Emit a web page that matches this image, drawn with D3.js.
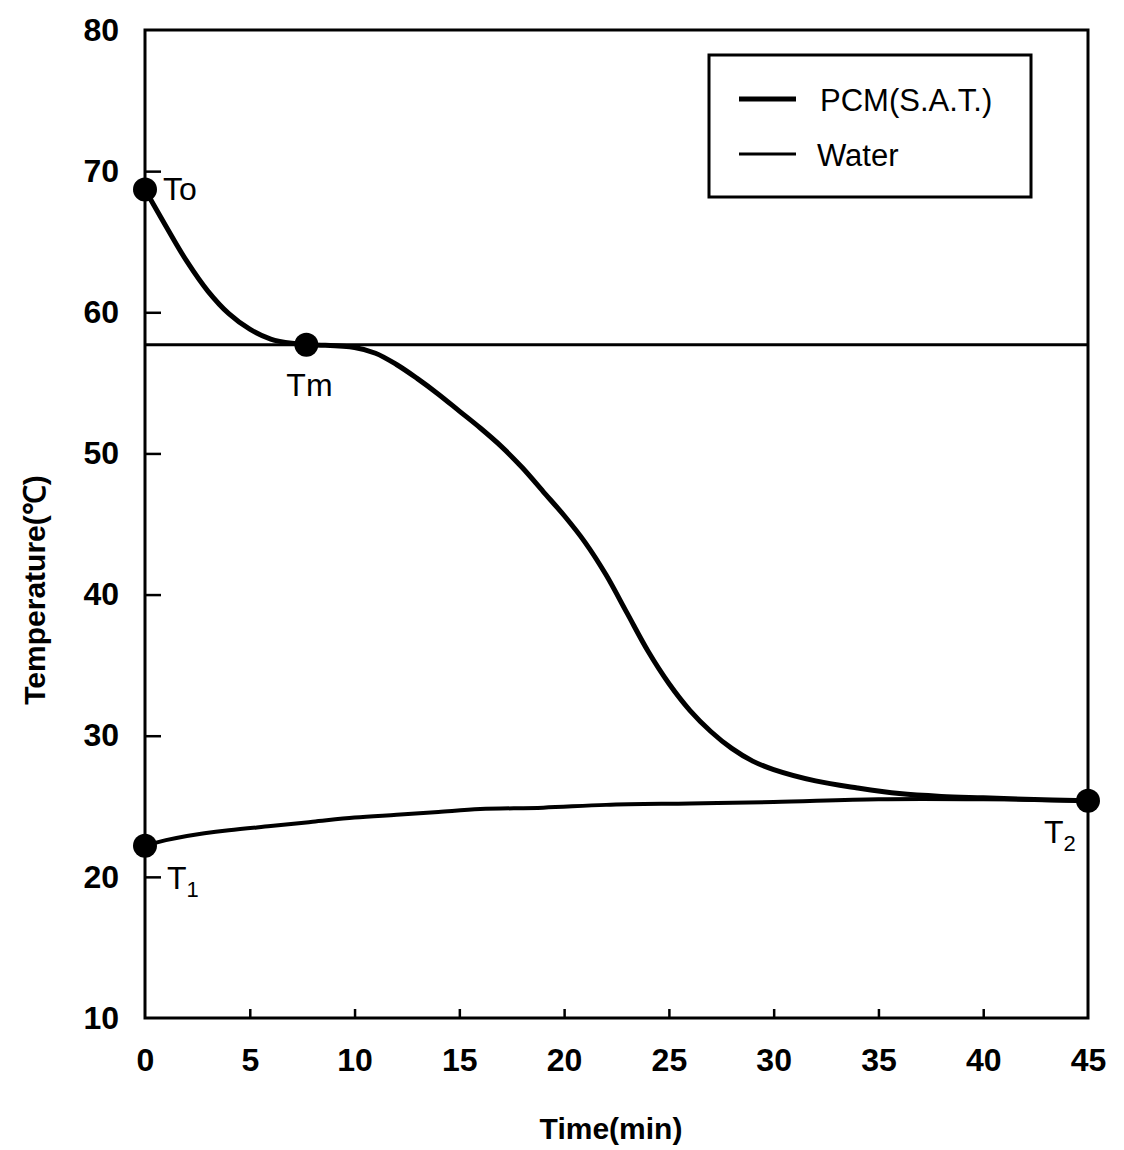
<!DOCTYPE html>
<html>
<head>
<meta charset="utf-8">
<script src="https://cdn.jsdelivr.net/npm/d3@7"></script>
<style>
  body { margin: 0; background: #fff; }
  text { font-family: "Liberation Sans", Arial, sans-serif; fill: #000; }
</style>
</head>
<body>
<script>
// values
let pcmTime = [0, 1, 2, 3, 4, 5, 6, 7, 8, 10, 11, 12, 13, 14, 15, 16, 17, 18, 19, 20, 21, 22, 23, 24, 25, 26, 27, 28, 29, 30, 32, 34, 36, 38, 40, 42, 45];
let pcmTemp = [68.7, 66.1, 63.6, 61.5, 59.9, 58.8, 58.1, 57.8, 57.7, 57.5, 57.1, 56.3, 55.3, 54.2, 53.0, 51.8, 50.5, 49.0, 47.3, 45.6, 43.7, 41.4, 38.7, 36.0, 33.7, 31.8, 30.3, 29.1, 28.2, 27.6, 26.8, 26.3, 25.9, 25.7, 25.6, 25.5, 25.4];
let waterTime = [0, 1, 2, 4, 6, 8, 10, 12, 14, 16, 19, 22, 26, 30, 35, 40, 45];
let waterTemp = [22.2, 22.6, 22.9, 23.3, 23.6, 23.9, 24.2, 24.4, 24.6, 24.8, 24.9, 25.1, 25.2, 25.3, 25.5, 25.5, 25.4];
let meltTemp = 57.7;
let markers = [
  {name: "To", t: 0, v: 68.7},
  {name: "Tm", t: 7.7, v: 57.7},
  {name: "T1", t: 0, v: 22.2},
  {name: "T2", t: 45, v: 25.4}
];
let xTicks = [0, 5, 10, 15, 20, 25, 30, 35, 40, 45];
let yTicks = [10, 20, 30, 40, 50, 60, 70, 80];

let W = 1124, H = 1150;
let margin = {left: 145, right: 36, top: 30, bottom: 132};

let svg = d3.select("body").append("svg").attr("width", W).attr("height", H);

let x = d3.scaleLinear().domain([0, 45]).range([margin.left, W - margin.right]);
let y = d3.scaleLinear().domain([10, 80]).range([H - margin.bottom, margin.top]);

// frame
svg.append("rect")
  .attr("x", x(0)).attr("y", y(80))
  .attr("width", x(45) - x(0)).attr("height", y(10) - y(80))
  .attr("fill", "none").attr("stroke", "#000").attr("stroke-width", 3);

// axes, ticks pointing inwards
let yAxis = svg.append("g")
  .attr("transform", "translate(" + x(0) + ",0)")
  .call(d3.axisLeft(y).tickValues(yTicks).tickSize(-16).tickPadding(26));
yAxis.select(".domain").remove();
yAxis.selectAll(".tick line").attr("stroke-width", 2.5)
  .filter(d => d === 10 || d === 80).remove();
yAxis.selectAll(".tick text")
  .style("font-size", "32px").style("font-weight", "bold");

let xAxis = svg.append("g")
  .attr("transform", "translate(0," + y(10) + ")")
  .call(d3.axisBottom(x).tickValues(xTicks).tickSize(-9).tickPadding(30));
xAxis.select(".domain").remove();
xAxis.selectAll(".tick line").attr("stroke-width", 2.5)
  .filter(d => d === 0 || d === 45).remove();
xAxis.selectAll(".tick text")
  .style("font-size", "32px").style("font-weight", "bold");

// melting reference line
svg.append("line")
  .attr("x1", x(0)).attr("x2", x(45))
  .attr("y1", y(meltTemp)).attr("y2", y(meltTemp))
  .attr("stroke", "#000").attr("stroke-width", 3);

let line = d3.line()
  .x(d => x(d[0]))
  .y(d => y(d[1]))
  .curve(d3.curveCatmullRom.alpha(0.5));

svg.append("path")
  .attr("d", line(d3.zip(waterTime, waterTemp)))
  .attr("fill", "none").attr("stroke", "#000").attr("stroke-width", 4);

svg.append("path")
  .attr("d", line(d3.zip(pcmTime, pcmTemp)))
  .attr("fill", "none").attr("stroke", "#000").attr("stroke-width", 5);

svg.selectAll("circle.mk").data(markers).enter().append("circle")
  .attr("class", "mk")
  .attr("cx", d => x(d.t)).attr("cy", d => y(d.v))
  .attr("r", 12).attr("fill", "#000");

// point labels
function label(px, py, main, sub) {
  let t = svg.append("text").attr("x", px).attr("y", py)
    .style("font-size", "32px");
  t.append("tspan").text(main);
  if (sub) t.append("tspan").attr("dy", 8).style("font-size", "22px").text(sub);
}
label(x(0) + 18, y(68.7) + 11, "To");
label(x(7.7) - 20, y(57.7) + 51, "Tm");
label(x(0) + 22, y(22.2) + 43, "T", "1");
label(x(45) - 44, y(25.4) + 42, "T", "2");

// legend
let lg = svg.append("g");
lg.append("rect")
  .attr("x", 709).attr("y", 55).attr("width", 322).attr("height", 142)
  .attr("fill", "#fff").attr("stroke", "#000").attr("stroke-width", 3);
lg.append("line").attr("x1", 739).attr("x2", 796).attr("y1", 99).attr("y2", 99)
  .attr("stroke", "#000").attr("stroke-width", 5);
lg.append("line").attr("x1", 739).attr("x2", 796).attr("y1", 154).attr("y2", 154)
  .attr("stroke", "#000").attr("stroke-width", 3);
lg.append("text").attr("x", 820).attr("y", 111).style("font-size", "31px").text("PCM(S.A.T.)");
lg.append("text").attr("x", 817).attr("y", 166).style("font-size", "31px").text("Water");

// axis titles
svg.append("text")
  .attr("transform", "translate(45," + 590 + ") rotate(-90)")
  .attr("text-anchor", "middle")
  .style("font-size", "30px").style("font-weight", "bold")
  .text("Temperature(℃)");

svg.append("text")
  .attr("x", 611).attr("y", 1139)
  .attr("text-anchor", "middle")
  .style("font-size", "30px").style("font-weight", "bold")
  .text("Time(min)");
</script>
</body>
</html>
